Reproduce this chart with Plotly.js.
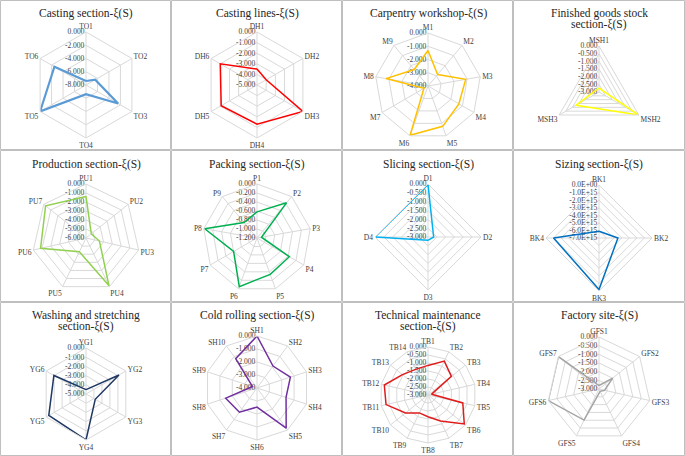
<!DOCTYPE html>
<html>
<head>
<meta charset="utf-8">
<script src="https://cdn.plot.ly/plotly-3.0.1.min.js"></script>
<style>
html, body { margin: 0; padding: 0; background: #fff; }
#chart { width: 685px; height: 456px; }
</style>
</head>
<body>
<div id="chart"></div>
<script>
// categories and values (xi(S) per station)
var castingCats = ['TO1', 'TO2', 'TO3', 'TO4', 'TO5', 'TO6'];
var castingVals = [-7.4, -6.4, -2.4, -6.6, 0, -2.5];

var linesCats = ['DH1', 'DH2', 'DH3', 'DH4', 'DH5', 'DH6'];
var linesVals = [-3.5, -4.0, 0, -1.3, -1.1, -1.0];

var carpCats = ['M1', 'M2', 'M3', 'M4', 'M5', 'M6', 'M7', 'M8', 'M9'];
var carpVals = [-1.32, -2.87, -1.11, -1.31, -0.76, -0.05, -3.65, -0.78, -2.38];

var stockCats = ['MSH1', 'MSH2', 'MSH3'];
var stockVals = [-2.74, 0, -1.28];

var prodCats = ['PU1', 'PU2', 'PU3', 'PU4', 'PU5', 'PU6', 'PU7'];
var prodVals = [-1.38, -5.25, -4.47, -0.1, -4.3, -0.82, -0.26];

var packCats = ['P1', 'P2', 'P3', 'P4', 'P5', 'P6', 'P7', 'P8', 'P9'];
var packVals = [-0.62, -0.18, -1.1, -0.37, -0.34, -0.05, -0.6, -0.02, -0.75];

var sliceCats = ['D1', 'D2', 'D3', 'D4'];
var sliceVals = [-0.02, -2.68, -2.81, 0];

var sizeCats = ['BK1', 'BK2', 'BK3', 'BK4'];
var sizeVals = [-6.1e15, -4.5e15, -0.2e15, -1.0e15];
var sizeTicks = ['0.0E+00', '-1.0E+15', '-2.0E+15', '-3.0E+15', '-4.0E+15', '-5.0E+15', '-6.0E+15', '-7.0E+15'];

var washCats = ['YG1', 'YG2', 'YG3', 'YG4', 'YG5', 'YG6'];
var washVals = [-4.53, -0.86, -3.84, 0, -0.33, -0.97];

var coldCats = ['SH1', 'SH2', 'SH3', 'SH4', 'SH5', 'SH6', 'SH7', 'SH8', 'SH9', 'SH10'];
var coldVals = [0, -1.91, -1.3, -1.65, -0.18, -2.53, -1.7, -1.47, -3.64, -1.21];

var techCats = ['TB1', 'TB2', 'TB3', 'TB4', 'TB5', 'TB6', 'TB7', 'TB8', 'TB9', 'TB10', 'TB11', 'TB12', 'TB13', 'TB14'];
var techVals = [-1.15, -0.65, -1.13, -2.77, -0.77, -0.1, -1.2, -1.64, -1.76, -1.2, -0.31, -0.2, -0.96, -1.22];

var siteCats = ['GFS1', 'GFS2', 'GFS3', 'GFS4', 'GFS5', 'GFS6', 'GFS7'];
var siteVals = [-2.8, -1.99, -2.67, -2.85, -1.01, 0, 0];

var W = 685, H = 456;

// panel setup: data refs, axis min/step, colour, and placement in px
var panels = [
  {title: ['Casting section-ξ(S)'], cats: castingCats, vals: castingVals, min: -8, step: 2, color: '#5B9BD5', width: 2.2, cx: 86, cy: 85, R: 53, ty: 13},
  {title: ['Casting lines-ξ(S)'], cats: linesCats, vals: linesVals, min: -5, step: 1, color: '#FF0000', width: 1.5, cx: 257, cy: 85, R: 53, ty: 13},
  {title: ['Carpentry workshop-ξ(S)'], cats: carpCats, vals: carpVals, min: -4, step: 1, color: '#FFC000', width: 1.5, cx: 428, cy: 86, R: 53, ty: 13},
  {title: ['Finished goods stock', 'section-ξ(S)'], cats: stockCats, vals: stockVals, min: -3, step: 0.5, color: '#FFFF00', width: 1.5, cx: 599, cy: 92, R: 46, ty: 13},
  {title: ['Production section-ξ(S)'], cats: prodCats, vals: prodVals, min: -6, step: 1, color: '#92D050', width: 1.5, cx: 86, cy: 238, R: 54, ty: 164},
  {title: ['Packing section-ξ(S)'], cats: packCats, vals: packVals, min: -1.2, step: 0.2, color: '#00B050', width: 1.5, cx: 257, cy: 238, R: 54, ty: 164},
  {title: ['Slicing section-ξ(S)'], cats: sliceCats, vals: sliceVals, min: -3, step: 0.5, color: '#00B0F0', width: 1.5, cx: 428, cy: 237, R: 53, ty: 164},
  {title: ['Sizing section-ξ(S)'], cats: sizeCats, vals: sizeVals, min: -7e15, step: 1e15, color: '#0070C0', width: 1.5, cx: 599, cy: 238, R: 53, ty: 164, ticks: sizeTicks},
  {title: ['Washing and stretching', 'section-ξ(S)'], cats: washCats, vals: washVals, min: -5, step: 1, color: '#1F3864', width: 1.5, cx: 86, cy: 394, R: 46, ty: 315},
  {title: ['Cold rolling section-ξ(S)'], cats: coldCats, vals: coldVals, min: -4, step: 1, color: '#7030A0', width: 1.5, cx: 257, cy: 388, R: 52, ty: 315},
  {title: ['Technical maintenance', 'section-ξ(S)'], cats: techCats, vals: techVals, min: -3, step: 0.5, color: '#E01B1B', width: 1.5, cx: 428, cy: 395, R: 48, ty: 315},
  {title: ['Factory site-ξ(S)'], cats: siteCats, vals: siteVals, min: -3, step: 0.5, color: '#A5A5A5', width: 1.5, cx: 599, cy: 389, R: 52, ty: 315}
];

var font = 'Liberation Serif, Times New Roman, serif';
var data = [];
var layout = {
  width: W, height: H,
  margin: {l: 0, r: 0, t: 0, b: 0},
  paper_bgcolor: '#fff',
  showlegend: false,
  font: {family: font, color: '#404040', size: 7},
  annotations: [],
  shapes: []
};

panels.forEach(function(p, i){
  var key = 'polar' + (i === 0 ? '' : (i + 1));
  var n = Math.round(-p.min / p.step);
  var tv = [], tt = [];
  for (var k = 0; k <= n; k++) {
    tv.push(-k * p.step);
    tt.push(p.ticks ? p.ticks[k] : (k === 0 ? '0.000' : '-' + (k * p.step).toFixed(3)));
  }

  data.push({
    type: 'scatterpolar',
    subplot: key,
    theta: p.cats.concat([p.cats[0]]),
    r: p.vals.concat([p.vals[0]]),
    mode: 'lines',
    line: {color: p.color, width: p.width},
    hoverinfo: 'skip'
  });

  layout[key] = {
    domain: {
      x: [(p.cx - p.R) / W, (p.cx + p.R) / W],
      y: [1 - (p.cy + p.R) / H, 1 - (p.cy - p.R) / H]
    },
    bgcolor: 'rgba(0,0,0,0)',
    gridshape: 'linear',
    radialaxis: {
      range: [p.min, 0],
      autorange: false,
      tickvals: tv,
      ticktext: tt,
      angle: 90,
      side: 'counterclockwise',
      tickangle: 90,
      showline: false,
      ticks: '',
      gridcolor: '#D9D9D9',
      gridwidth: 1,
      layer: 'below traces',
      tickfont: {size: 7.5, color: '#404040', family: font}
    },
    angularaxis: {
      type: 'category',
      categoryarray: p.cats,
      rotation: 90,
      direction: 'clockwise',
      showline: true,
      linecolor: '#D9D9D9',
      linewidth: 1,
      gridcolor: '#D9D9D9',
      ticks: '',
      tickfont: {size: 7.5, color: '#404040', family: font}
    }
  };

  // title, one annotation per line for tight line spacing
  p.title.forEach(function(line, j){
    layout.annotations.push({
      xref: 'paper', yref: 'paper',
      x: p.cx / W, y: 1 - (p.ty + j * 11.5) / H,
      xanchor: 'center', yanchor: 'middle',
      text: line,
      showarrow: false,
      font: {family: font, size: 11.5, color: '#262626'}
    });
  });

  // panel frame
  var col = i % 4, row = Math.floor(i / 4);
  var xs = [0, 171, 342, 513, 685], ys = [0, 150, 302, 456];
  layout.shapes.push({
    type: 'rect', xref: 'paper', yref: 'paper',
    x0: (xs[col] + 0.5) / W, x1: (xs[col + 1] - 0.5) / W,
    y0: 1 - (ys[row + 1] - 0.5) / H, y1: 1 - (ys[row] + 0.5) / H,
    line: {color: '#BFBFBF', width: 1}
  });
});

Plotly.newPlot('chart', data, layout, {displayModeBar: false, staticPlot: true});
</script>
</body>
</html>
